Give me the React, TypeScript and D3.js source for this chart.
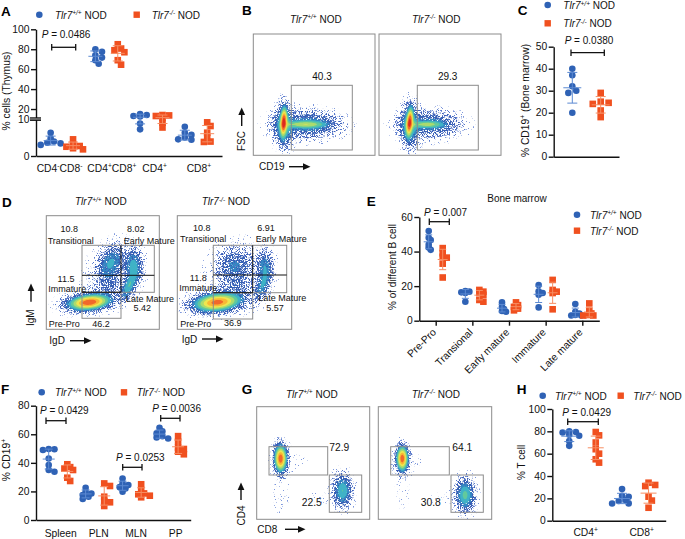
import * as d3 from "d3";
import { useEffect, useRef } from "react";

const FONT = "'Liberation Sans', Arial, sans-serif";
const BLUE = "#2f62b5";
const RED = "#f0501f";
const BLUE_BAR = "#5c8ad2";
const RED_BAR = "#f78d62";

// A - thymus
const thymusCats = ["DN", "DP", "CD4", "CD8"];
const thymusWt = [
  [6.3, 4.8, 3.9, 3.6, 3.4, 3],
  [80, 77.4, 74, 71.6, 69, 65.5],
  [15, 14, 13, 12.5, 8.8, 7.2],
  [7.9, 6.3, 5.7, 5, 4.5, 4.4],
];
const thymusKo = [
  [4.5, 3.2, 2.7, 2.5, 2.1, 1.8],
  [85, 80.7, 79, 77, 69, 64.5],
  [14, 13.6, 13, 11, 9, 7.7],
  [9.1, 8.1, 6.3, 5, 3.9, 3.8],
];
const thymusTicks = [0, 10, 20, 40, 60, 80, 100];

// C - bone marrow CD19
const marrowCats = ["CD19"];
const marrowWt = [[40, 37, 32, 30, 29, 20]];
const marrowKo = [[29, 25, 24.5, 24, 21, 18]];

// E - B cell subsets
const subsetCats = ["Pre-Pro", "Transional", "Early mature", "Immature", "Late mature"];
const subsetWt = [
  [51.9, 48, 46.7, 44, 42.3, 41],
  [17.2, 16.8, 16.4, 16, 11],
  [10.6, 8, 6.8, 5.6, 5.2],
  [20.6, 17, 16, 15, 7.7],
  [9.7, 5.2, 4.2, 3.3, 3, 3],
];
const subsetKo = [
  [42, 39, 37, 36.5, 33, 25],
  [17.8, 16.8, 16, 15, 12, 11],
  [10.6, 9, 8, 7, 6],
  [23.6, 17.8, 16.8, 16, 6.6],
  [10, 5.6, 4.2, 3.3, 3, 3],
];

// F - CD19 by organ
const organCats = ["Spleen", "PLN", "MLN", "PP"];
const organWt = [
  [49.7, 49.5, 49, 43, 38.5, 35, 33.8],
  [22.6, 19.8, 18.6, 17.5, 16.3, 14.7],
  [29, 25.6, 24.5, 23, 22, 19.8],
  [64.6, 62, 60.6, 58.7, 57.8, 57],
];
const organKo = [
  [39, 37, 36, 35, 29.6, 27.3],
  [25.6, 23.8, 16.3, 13.3, 12.4, 9.8],
  [25, 21, 18.6, 18, 17, 15.9],
  [58.7, 54.8, 50.6, 49.7, 47.8, 46],
];

// H - T cells
const tcellCats = ["CD4", "CD8"];
const tcellWt = [
  [80, 79.4, 79, 77, 76, 71.3, 67],
  [28.4, 22.4, 21.5, 18.5, 17.6, 15.5, 15.4],
];
const tcellKo = [
  [79.4, 76.4, 70, 64, 60, 55, 52],
  [34, 32, 31, 21.5, 18, 11.6],
];

// flow plots: density lumps [x%, y%, sdX, sdY, weight, tilt]
const flowB1 = [
  [24.5, 28, 1.5, 6.5, 0.72, 3], [24.5, 25, 4.2, 10.5, 0.17, 0],
  [42, 26, 10.5, 1.7, 0.26, 0], [45, 26, 15, 6.2, 0.13, 0], [36, 24, 20, 10, 0.012, 0],
];
const flowB2 = [
  [24.6, 28, 1.5, 6.5, 0.68, 5], [24.6, 25, 4.2, 10.5, 0.17, 0],
  [39, 26, 8, 1.6, 0.23, 0], [42, 26, 14, 6, 0.12, 0], [36, 24, 20, 10, 0.01, 0],
];
const flowD1 = [
  [37.5, 24.3, 10, 3.6, 0.72, -6], [32, 24, 15, 6, 0.025, -8],
  [56.4, 59.2, 6, 9.5, 0.14, 28], [76.7, 55.7, 4.5, 9, 0.17, 0], [72.3, 38, 3, 7.5, 0.18, 25],
  [54.6, 39, 8, 8, 0.05, 20], [63, 54, 13, 15, 0.022, 0], [45, 40, 26, 24, 0.006, 0],
];
const flowD2 = [
  [34.4, 24.3, 11, 4.2, 0.66, -6], [30, 24, 16, 7, 0.025, -8],
  [48.7, 56.6, 9, 9.5, 0.09, 30], [75.8, 55.7, 4, 8.5, 0.13, 0], [74, 39, 3.4, 8, 0.13, 20],
  [53, 34.6, 10, 7, 0.035, 20], [59, 52, 15, 16, 0.022, 0], [45, 40, 28, 25, 0.006, 0],
];
const flowG1 = [
  [20.6, 54.5, 3, 6.5, 0.72, 0], [21, 52, 8, 12, 0.012, 0], [20.6, 22, 5, 13, 0.012, 0],
  [42, 53, 12, 7, 0.005, 0], [75.5, 26, 4.6, 8, 0.2, 0], [75.5, 27, 7.5, 13, 0.012, 0], [52, 20, 12, 4.5, 0.009, 0],
];
const flowG2 = [
  [20.6, 54.5, 2.8, 6, 0.72, 0], [21, 52, 8, 11, 0.012, 0], [20.6, 24, 5, 13, 0.01, 0],
  [42, 53, 12, 7, 0.004, 0], [76, 22, 4.6, 8, 0.22, 0], [76, 23, 7.5, 13, 0.012, 0], [52, 20, 12, 4.5, 0.009, 0],
];

const flowLevels = [0.005, 0.014, 0.03, 0.06, 0.1, 0.15, 0.21, 0.29, 0.39, 0.5, 0.62, 0.78];
const flowColors = ["#7d97dc", "#5878cb", "#3d60b8", "#3560b4", "#3488c2", "#3fb2c6", "#62c99c", "#abdb6e", "#eee650", "#f8b835", "#f1682b", "#dc2a1e"];
const speckCuts = [-9.4, -8.4, -7.5, -6.6, -5.8];

function FlowPlot({ box, lumps }: { box: number[]; lumps: number[][] }) {
  const [x0, y0, x1, y1] = box;
  const w = x1 - x0;
  const h = y1 - y0;
  const step = 1.25;
  const nx = Math.ceil(w / step);
  const ny = Math.ceil(h / step);
  const xs = d3.scaleLinear().domain([0, w]).range([0, 100]);
  const ys = d3.scaleLinear().domain([h, 0]).range([0, 100]);
  const values = new Array(nx * ny).fill(0);
  for (let j = 0; j < ny; j++) {
    for (let i = 0; i < nx; i++) {
      const px = xs(i * step);
      const py = ys(j * step);
      let sum = 0;
      for (const [cx, cy, sx, sy, wt, tilt] of lumps) {
        const a = (tilt * Math.PI) / 180;
        const dx = px - cx;
        const dy = py - cy;
        const u = (dx * Math.cos(a) - dy * Math.sin(a)) / sx;
        const v = (dx * Math.sin(a) + dy * Math.cos(a)) / sy;
        sum += wt * Math.exp(-0.5 * (u * u + v * v));
      }
      values[j * nx + i] = sum;
    }
  }
  const shapes = d3.contours().size([nx, ny]).thresholds(flowLevels)(values);
  const path = d3.geoPath(d3.geoIdentity().scale(step) as any);
  const clipId = `clip-${x0}-${y0}`;
  return (
    <g transform={`translate(${x0},${y0})`}>
      <clipPath id={clipId}><rect width={w} height={h} /></clipPath>
      <g clipPath={`url(#${clipId})`}>
        {shapes.map((s, i) => (
          <path key={i} d={path(s as any) || ""} fill={flowColors[i]}
            filter={i < speckCuts.length ? `url(#speck${i})` : undefined} />
        ))}
      </g>
      <rect width={w} height={h} fill="none" stroke="#8b8b8b" strokeWidth={1} />
    </g>
  );
}

function Tlr({ x, y, ko, size = 10, anchor }: { x: number; y: number; ko?: boolean; size?: number; anchor?: string }) {
  return (
    <text x={x} y={y} fontSize={size} textAnchor={anchor} fill="#111">
      <tspan fontStyle="italic">Tlr7</tspan>
      <tspan fontStyle="italic" fontSize={size * 0.65} dy={-size * 0.35}>{ko ? "-/-" : "+/+"}</tspan>
      <tspan dy={size * 0.35}> NOD</tspan>
    </text>
  );
}

function Sup({ x, y, parts, size = 10.3, anchor, rotate }: { x: number; y: number; parts: string[]; size?: number; anchor?: string; rotate?: boolean }) {
  // parts alternate plain, superscript, plain ...
  return (
    <text x={rotate ? 0 : x} y={rotate ? 0 : y} fontSize={size} textAnchor={anchor} fill="#111"
      transform={rotate ? `translate(${x},${y}) rotate(-90)` : undefined}>
      {parts.map((p, i) => {
        const up = i % 2 === 1;
        const dy = (up ? -size * 0.35 : size * 0.35) * (i === 0 ? 0 : 1);
        return <tspan key={i} fontSize={up ? size * 0.65 : size} dy={dy}>{p}</tspan>;
      })}
    </text>
  );
}

function PVal({ x, y, label, anchor }: { x: number; y: number; label: string; anchor?: string }) {
  return (
    <text x={x} y={y} fontSize={10} textAnchor={anchor} fill="#111">
      <tspan fontStyle="italic">P</tspan> = {label}
    </text>
  );
}

function Bracket({ x1, x2, y }: { x1: number; x2: number; y: number }) {
  return (
    <g stroke="#111" strokeWidth={1.3} fill="none">
      <line x1={x1} x2={x2} y1={y} y2={y} />
      <line x1={x1} x2={x1} y1={y - 3.3} y2={y + 3.3} />
      <line x1={x2} x2={x2} y1={y - 3.3} y2={y + 3.3} />
    </g>
  );
}

function Arrow({ x1, y1, x2, y2 }: { x1: number; y1: number; x2: number; y2: number }) {
  return <line x1={x1} y1={y1} x2={x2} y2={y2} stroke="#111" strokeWidth={1.4} markerEnd="url(#head)" />;
}

function Marker({ kind, x, y, size = 3.3 }: { kind: "wt" | "ko"; x: number; y: number; size?: number }) {
  return kind === "wt"
    ? <circle cx={x} cy={y} r={size} fill={BLUE} />
    : <rect x={x - size} y={y - size} width={size * 2} height={size * 2} fill={RED} />;
}

function Legend({ x, y, textX, ko }: { x: number; y: number; textX: number; ko?: boolean }) {
  return (
    <g>
      <Marker kind={ko ? "ko" : "wt"} x={x} y={y} size={ko ? 3.2 : 3.3} />
      <Tlr x={textX} y={y + 4} ko={ko} />
    </g>
  );
}

// spread the points sideways when they would sit on top of each other
function dodge(vals: number[], y: any, minDist: number) {
  const placed: { dx: number; py: number }[] = [];
  const tries = [0, 1, -1, 2, -2, 3, -3];
  return vals.map((v) => {
    const py = y(v);
    let dx = 0;
    for (const t of tries) {
      const c = t * minDist * 0.72;
      if (placed.every((p) => Math.hypot(p.dx - c, p.py - py) >= minDist)) { dx = c; break; }
    }
    placed.push({ dx, py });
    return { dx, py };
  });
}

function Group({ vals, cx, kind, y, cap, meanW, gap }: { vals: number[]; cx: number; kind: "wt" | "ko"; y: any; cap: number; meanW: number; gap: number }) {
  const m = d3.mean(vals) as number;
  const sd = d3.deviation(vals) as number;
  const col = kind === "wt" ? BLUE_BAR : RED_BAR;
  return (
    <g>
      {dodge(vals, y, gap).map((p, i) => <Marker key={i} kind={kind} x={cx + p.dx} y={p.py} />)}
      <g stroke={col} strokeWidth={1} fill="none">
        <line x1={cx} x2={cx} y1={y(m - sd)} y2={y(m + sd)} />
        <line x1={cx - meanW} x2={cx + meanW} y1={y(m)} y2={y(m)} />
        <line x1={cx - cap} x2={cx + cap} y1={y(m - sd)} y2={y(m - sd)} />
        <line x1={cx - cap} x2={cx + cap} y1={y(m + sd)} y2={y(m + sd)} />
      </g>
    </g>
  );
}

function Axes({ x, left, right, y, ticks, xTicks }: { x: number; left: number; right: number; y: any; ticks: number[]; xTicks?: number[] }) {
  const yRef = useRef<SVGGElement>(null);
  const xRef = useRef<SVGGElement>(null);
  useEffect(() => {
    const gy = d3.select(yRef.current as SVGGElement);
    gy.call(d3.axisLeft(y).tickValues(ticks).tickSize(5).tickSizeOuter(0).tickPadding(1.5).tickFormat(d3.format("d")) as any);
    gy.attr("font-size", 10.3).attr("font-family", FONT);
    gy.selectAll("line,path").attr("stroke", "#111").attr("stroke-width", 1.4);
    gy.selectAll("text").attr("fill", "#111");
    const sx = d3.scaleLinear().domain([left, right]).range([left, right]);
    const gx = d3.select(xRef.current as SVGGElement);
    gx.call(d3.axisBottom(sx).tickValues(xTicks || []).tickSize(5).tickSizeOuter(0) as any);
    gx.selectAll("line,path").attr("stroke", "#111").attr("stroke-width", 1.4);
    gx.selectAll("text").remove();
  }, []);
  return (
    <g>
      <g ref={yRef} transform={`translate(${x},0)`} />
      <g ref={xRef} transform={`translate(0,${y.range()[0]})`} />
    </g>
  );
}

function Swarm({ cats, wt, ko, y, range, offset, cap = 5, meanW = 7, gap = 5 }: any) {
  const x = d3.scalePoint<string>().domain(cats).range(range).align(0.5);
  return (
    <g>
      {cats.map((c: string, i: number) => (
        <g key={c}>
          <Group vals={wt[i]} cx={(x(c) as number) - offset} kind="wt" y={y} cap={cap} meanW={meanW} gap={gap} />
          <Group vals={ko[i]} cx={(x(c) as number) + offset} kind="ko" y={y} cap={cap} meanW={meanW} gap={gap} />
        </g>
      ))}
    </g>
  );
}

function Gate({ x, y, w, h, stroke = "#8b8b8b", sw = 1 }: any) {
  return <rect x={x} y={y} width={w} height={h} fill="none" stroke={stroke} strokeWidth={sw} />;
}

const Letter = ({ x, y, t }: { x: number; y: number; t: string }) => (
  <text x={x} y={y} fontSize={13.5} fontWeight="bold" fill="#000">{t}</text>
);

function Small({ x, y, t, anchor = "start", size = 9 }: any) {
  return <text x={x} y={y} fontSize={size} textAnchor={anchor} fill="#111">{t}</text>;
}

export default function App() {
  const yA = d3.scaleLinear().domain([0, 10, 100]).range([156, 119, 29.3]);
  const yC = d3.scaleLinear().domain([0, 50]).range([156.7, 46.7]);
  const yE = d3.scaleLinear().domain([0, 60]).range([320.7, 217]);
  const yF = d3.scaleLinear().domain([0, 80]).range([520, 405.7]);
  const yH = d3.scaleLinear().domain([0, 100]).range([520.7, 409]);
  const subsetX = d3.scalePoint<string>().domain(subsetCats).range([435.7, 582.3]);

  return (
    <svg width={685} height={539} style={{ position: "absolute", left: 0, top: 0, background: "#fff" }} fontFamily={FONT}>
      <defs>
        <marker id="head" markerUnits="userSpaceOnUse" markerWidth={8} markerHeight={8} refX={1} refY={4} orient="auto">
          <path d="M0,0.6 L7.5,4 L0,7.4 Z" fill="#111" />
        </marker>
        {speckCuts.map((cut, i) => (
          <filter key={i} id={`speck${i}`} x="0" y="0" width="100%" height="100%" colorInterpolationFilters="sRGB">
            <feTurbulence type="fractalNoise" baseFrequency={0.85} numOctaves={2} seed={4 + i * 5} result="n" />
            <feColorMatrix in="n" type="matrix" values={`0 0 0 0 0 0 0 0 0 0 0 0 0 0 0 14 0 0 0 ${cut}`} result="m" />
            <feComposite in="SourceGraphic" in2="m" operator="in" />
          </filter>
        ))}
      </defs>

      {/* A */}
      <Letter x={1} y={16} t="A" />
      <Legend x={39.3} y={14.7} textX={55} />
      <Legend x={136.7} y={14.7} textX={151.7} ko />
      <Axes x={36} left={36} right={222} y={yA} ticks={thymusTicks} />
      <rect x={30} y={117.3} width={11} height={3.6} fill="#111" />
      <line x1={30} x2={41} y1={119} y2={119} stroke="#fff" strokeWidth={0.7} />
      <Swarm cats={thymusCats} wt={thymusWt} ko={thymusKo} y={yA} range={[61.85, 196]} offset={11.2} gap={4.6} />
      <PVal x={41.7} y={38.3} label="0.0486" />
      <Bracket x1={51.7} x2={75.7} y={47.3} />
      <text transform="translate(9.5,91) rotate(-90)" fontSize={10.3} textAnchor="middle" fill="#111">% cells (Thymus)</text>
      <Sup x={36.7} y={171.7} parts={["CD4", "-", "CD8", "-"]} />
      <Sup x={87.3} y={171.7} parts={["CD4", "+", "CD8", "+"]} />
      <Sup x={142.3} y={171.7} parts={["CD4", "+"]} />
      <Sup x={186.7} y={171.7} parts={["CD8", "+"]} />

      {/* B */}
      <Letter x={242} y={15} t="B" />
      <Tlr x={290} y={22.6} />
      <Tlr x={412} y={22.6} ko />
      <FlowPlot box={[253.3, 34, 375, 155.3]} lumps={flowB1} />
      <FlowPlot box={[379, 34, 501, 155.3]} lumps={flowB2} />
      <Gate x={291.3} y={85.3} w={61} h={64.7} />
      <Gate x={417.3} y={85.3} w={61} h={64.7} />
      <Small x={322} y={80} t="40.3" anchor="middle" size={10} />
      <Small x={447.7} y={80} t="29.3" anchor="middle" size={10} />
      <text transform="translate(245,151) rotate(-90)" fontSize={10} fill="#111">FSC</text>
      <Arrow x1={241.7} y1={126} x2={241.7} y2={114} />
      <Small x={259} y={170} t="CD19" size={10} />
      <Arrow x1={289} y1={166.7} x2={304} y2={166.7} />

      {/* C */}
      <Letter x={517.7} y={15} t="C" />
      <Legend x={547.7} y={5} textX={563.3} />
      <Legend x={547.7} y={23.3} textX={563.3} ko />
      <Axes x={553.7} left={553.7} right={619} y={yC} ticks={[0, 10, 20, 30, 40, 50]} />
      <Swarm cats={marrowCats} wt={marrowWt} ko={marrowKo} y={yC} range={[586.5, 586.5]} offset={14.2} cap={5} meanW={9} gap={5.5} />
      <PVal x={589} y={44} label="0.0380" anchor="middle" />
      <Bracket x1={571} x2={604.3} y={52.7} />
      <Sup x={528.5} y={100.5} parts={["% CD19", "+", " (Bone marrow)"]} anchor="middle" rotate />

      {/* D */}
      <Letter x={2} y={207} t="D" />
      <Tlr x={75} y={205} />
      <Tlr x={201.7} y={205} ko />
      <FlowPlot box={[46.3, 215.7, 159.3, 329.3]} lumps={flowD1} />
      <FlowPlot box={[177.3, 215.7, 291.7, 329.3]} lumps={flowD2} />
      <Gate x={82} y={245.3} w={72.3} h={47} />
      <Gate x={82} y={292.3} w={39} h={26} />
      <path d="M121,245.3 V292.3 M82,275.3 H154.3 M82,292.3 H121" stroke="#111" strokeWidth={1} fill="none" />
      <Gate x={213.3} y={245.3} w={73.4} h={47.4} />
      <Gate x={213.3} y={292.7} w={39.4} h={26.3} />
      <path d="M252.7,245.3 V292.7 M213.3,275 H286.7 M213.3,292.7 H252.7" stroke="#111" strokeWidth={1} fill="none" />
      <Small x={69.3} y={231.7} t="10.8" anchor="middle" />
      <Small x={47.7} y={243.7} t="Transitional" />
      <Small x={135.7} y={231.7} t="8.02" anchor="middle" />
      <Small x={123.7} y={243.7} t="Early Mature" />
      <Small x={66} y={281.7} t="11.5" anchor="middle" />
      <Small x={48.3} y={291.7} t="Immature" />
      <Small x={126} y={301.7} t="Late Mature" />
      <Small x={142.3} y={311} t="5.42" anchor="middle" />
      <Small x={48.7} y={326.7} t="Pre-Pro" />
      <Small x={101} y={326.7} t="46.2" anchor="middle" />
      <Small x={201.7} y={230.7} t="10.8" anchor="middle" />
      <Small x={180} y={242.3} t="Transitional" />
      <Small x={266} y={230.7} t="6.91" anchor="middle" />
      <Small x={255.7} y={242.3} t="Early Mature" />
      <Small x={198.3} y={280.7} t="11.8" anchor="middle" />
      <Small x={179.3} y={291} t="Immature" />
      <Small x={258.3} y={300.7} t="Late Mature" />
      <Small x={275} y={311} t="5.57" anchor="middle" />
      <Small x={180.3} y={326.7} t="Pre-Pro" />
      <Small x={232.7} y={325.7} t="36.9" anchor="middle" />
      <text transform="translate(34,326) rotate(-90)" fontSize={10} fill="#111">IgM</text>
      <Arrow x1={31} y1={301.7} x2={31} y2={290} />
      <Small x={49.3} y={344.3} t="IgD" size={10} />
      <Arrow x1={70} y1={340.7} x2={85} y2={340.7} />
      <Small x={181.7} y={343.3} t="IgD" size={10} />
      <Arrow x1={202} y1={339} x2={217} y2={339} />

      {/* E */}
      <Letter x={366.7} y={206} t="E" />
      <Small x={517} y={202.3} t="Bone marrow" anchor="middle" size={10} />
      <Axes x={419.3} left={419.3} right={599.3} y={yE} ticks={[0, 20, 40, 60]} xTicks={subsetCats.map((c) => subsetX(c) as number)} />
      <Swarm cats={subsetCats} wt={subsetWt} ko={subsetKo} y={yE} range={[435.7, 582.3]} offset={7} cap={3.5} meanW={5} gap={2.8} />
      <PVal x={424} y={215.7} label="0.007" />
      <Bracket x1={429.3} x2={449.3} y={221.7} />
      <Legend x={577} y={214.7} textX={590} />
      <Legend x={577} y={230.7} textX={590} ko />
      <text transform="translate(396,267) rotate(-90)" fontSize={10} textAnchor="middle" fill="#111">% of different B cell</text>
      {subsetCats.map((c) => (
        <text key={c} transform={`translate(${(subsetX(c) as number) + 1},333) rotate(-45)`} fontSize={10.3} textAnchor="end" fill="#111">{c}</text>
      ))}

      {/* F */}
      <Letter x={1} y={394} t="F" />
      <Legend x={41.7} y={392.3} textX={55} />
      <Legend x={124} y={392.3} textX={136.7} ko />
      <Axes x={36} left={36} right={190.7} y={yF} ticks={[0, 20, 40, 60, 80]} />
      <Swarm cats={organCats} wt={organWt} ko={organKo} y={yF} range={[58, 168.8]} offset={9.3} cap={4} meanW={6} gap={4} />
      <PVal x={40} y={414.3} label="0.0429" />
      <Bracket x1={46} x2={66} y={420.7} />
      <PVal x={116} y={461} label="0.0253" />
      <Bracket x1={122.7} x2={142} y={467.3} />
      <PVal x={152.3} y={412.3} label="0.0036" />
      <Bracket x1={160.7} x2={180} y={418.3} />
      <Sup x={10} y={460} parts={["% CD19", "+"]} anchor="middle" rotate />
      <Small x={60.7} y={536.7} t="Spleen" anchor="middle" size={10.3} />
      <Small x={98.7} y={536.7} t="PLN" anchor="middle" size={10.3} />
      <Small x={136} y={536.7} t="MLN" anchor="middle" size={10.3} />
      <Small x={175.7} y={536.7} t="PP" anchor="middle" size={10.3} />

      {/* G */}
      <Letter x={241.7} y={394} t="G" />
      <Tlr x={286} y={397.7} />
      <Tlr x={411.7} y={397.7} ko />
      <FlowPlot box={[256.7, 406.7, 369.7, 519.3]} lumps={flowG1} />
      <FlowPlot box={[378.3, 406.7, 491.7, 519.3]} lumps={flowG2} />
      <Gate x={269} y={446.7} w={58.7} h={28.3} />
      <Gate x={329.3} y={475} w={32.4} h={37.3} />
      <Gate x={390.7} y={446.7} w={58.6} h={28.3} />
      <Gate x={451} y={475} w={32.3} h={37.3} />
      <Small x={329.3} y={451} t="72.9" size={10.3} />
      <Small x={311.7} y={505.7} t="22.5" anchor="middle" size={10.3} />
      <Small x={452.3} y={451} t="64.1" size={10.3} />
      <Small x={430.7} y={505.7} t="30.8" anchor="middle" size={10.3} />
      <text transform="translate(245,525.5) rotate(-90)" fontSize={10} fill="#111">CD4</text>
      <Arrow x1={241} y1={500} x2={241} y2={489} />
      <Small x={257.3} y={533.3} t="CD8" size={10} />
      <Arrow x1={285} y1={529.3} x2={299} y2={529.3} />

      {/* H */}
      <Letter x={516.7} y={394} t="H" />
      <Legend x={542.7} y={395.7} textX={555} />
      <Legend x={620.7} y={395.7} textX={633.3} ko />
      <Axes x={552.3} left={552.3} right={665.7} y={yH} ticks={[0, 20, 40, 60, 80, 100]} />
      <Swarm cats={tcellCats} wt={tcellWt} ko={tcellKo} y={yH} range={[582.5, 635.3]} offset={13.25} cap={5} meanW={8} gap={4.6} />
      <PVal x={586.7} y={415.7} label="0.0429" anchor="middle" />
      <Bracket x1={567.7} x2={598.3} y={421.7} />
      <text transform="translate(525,462.3) rotate(-90)" fontSize={10} textAnchor="middle" fill="#111">% T cell</text>
      <Sup x={585.7} y={535.7} parts={["CD4", "+"]} anchor="middle" />
      <Sup x={641.7} y={535.7} parts={["CD8", "+"]} anchor="middle" />
    </svg>
  );
}
